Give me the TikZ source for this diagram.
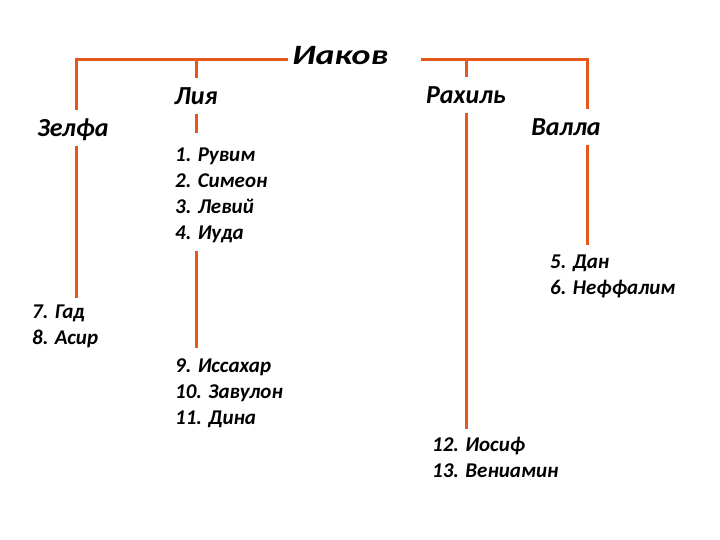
\documentclass[tikz,border=0pt]{standalone}
\usepackage{graphicx}
\usepackage{fontspec}
\setmainfont{Carlito}
\definecolor{linec}{RGB}{228,88,30}
\begin{document}
\begin{tikzpicture}[x=1pt,y=-1pt,
  conn/.style={draw=linec, line width=3pt},
  namebox/.style={font=\fontsize{26}{30}\selectfont\bfseries\itshape, inner xsep=1pt, inner ysep=9pt, text height=17pt, text depth=0pt},
  listbox/.style={font=\fontsize{21}{26}\selectfont\bfseries\itshape, align=left, anchor=north west, inner sep=0pt},
  rootbox/.style={font=\fontsize{28}{32}\selectfont\bfseries\itshape, anchor=west, inner sep=0pt, text height=18pt, text depth=0pt}]
\useasboundingbox (0,0) rectangle (720,540);

% names
\node[rootbox] (iakov) at (292,56) {\scalebox{1.28}[1]{Иаков}};
\node[namebox] (zelfa) at (73,128) {Зелфа};
\node[namebox] (lia) at (196,96) {Лия};
\node[namebox] (rachel) at (466,95) {Рахиль};
\node[namebox] (valla) at (566,127) {Валла};

% children lists
\node[listbox] (list1) at (175,148) {1. Рувим\\2. Симеон\\3. Левий\\4. Иуда};
\node[listbox] (list9) at (175,359) {9. Иссахар\\10. Завулон\\11. Дина};
\node[listbox] (gad) at (32,305) {7. Гад\\8. Асир};
\node[listbox] (dan) at (550,255) {5. Дан\\6. Неффалим};
\node[listbox] (josef) at (432,437) {12. Иосиф\\13. Вениамин};

% corner coordinates
\coordinate (lc) at (76,60);
\coordinate (rb) at (421,60);
\coordinate (vc) at (587,60);

% connectors
\draw[conn] ([xshift=-4pt]iakov.west |- lc) -- (lc) -- (lc |- zelfa.north);
\draw[conn] (lc -| lia.north) -- (lia.north);
\draw[conn] (rb) -- (vc) -- (vc |- valla.north);
\draw[conn] (rachel.north |- vc) -- (rachel.north);

\draw[conn, shorten >=15pt] (lia.south) -- (lia.south |- list1.north);
\draw[conn, shorten <=8pt, shorten >=11pt] (lia.south |- list1.south) -- (lia.south |- list9.north);
\draw[conn, shorten >=7pt] (lc |- zelfa.south) -- (lc |- gad.north);
\draw[conn, shorten >=8pt] (rachel.south) -- (rachel.south |- josef.north);
\draw[conn, shorten >=10pt] (vc |- valla.south) -- (vc |- dan.north);
\end{tikzpicture}
\end{document}
